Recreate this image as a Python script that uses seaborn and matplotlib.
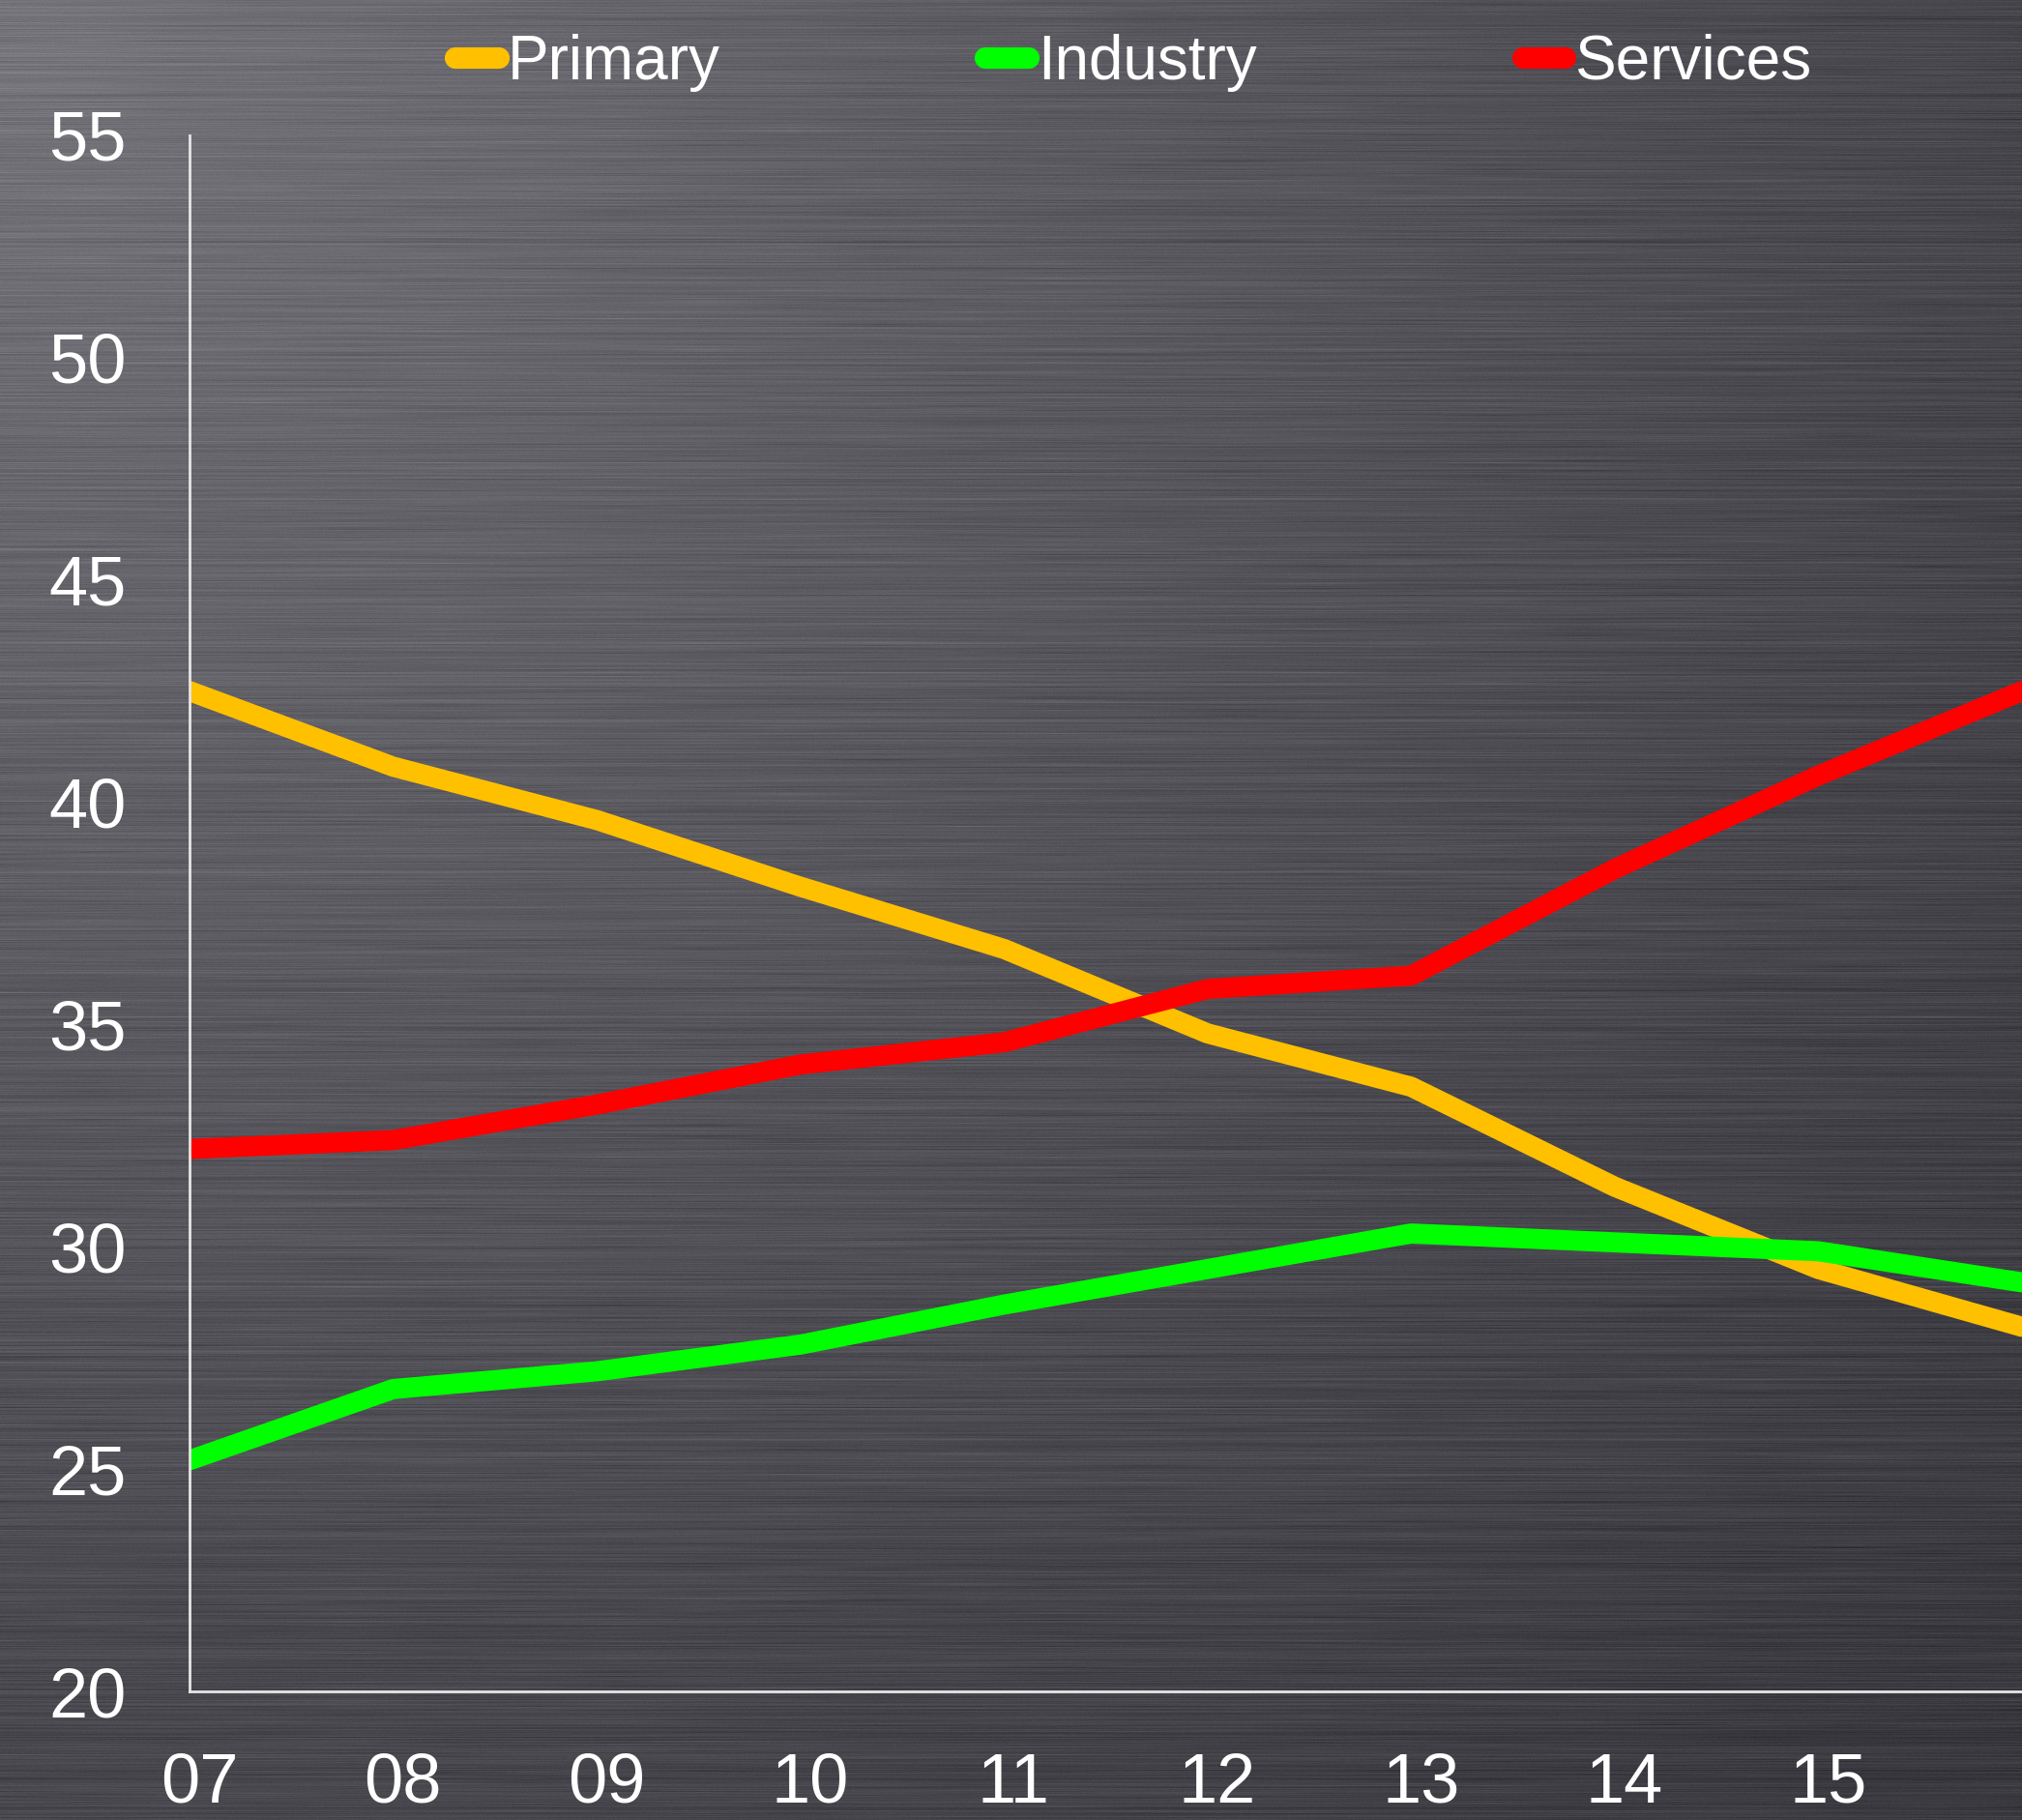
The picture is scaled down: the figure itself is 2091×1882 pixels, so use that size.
import numpy as np
import pandas as pd
import matplotlib
matplotlib.use("Agg")
import matplotlib.pyplot as plt
import matplotlib.transforms as mtransforms
from matplotlib.lines import Line2D
import seaborn as sns

# ---- data -------------------------------------------------------------
years = ["07", "08", "09", "10", "11", "12", "13", "14", "15", "16"]
primary = [42.5, 40.8, 39.6, 38.1, 36.7, 34.8, 33.6, 31.35, 29.5, 28.2]
industry = [25.2, 26.8, 27.2, 27.8, 28.7, 29.5, 30.3, 30.1, 29.9, 29.2]
services = [32.2, 32.4, 33.2, 34.1, 34.6, 35.8, 36.1, 38.5, 40.6, 42.5]
series_names = ["Primary", "Industry", "Services"]
series_colors = ["#FFC000", "#00FF00", "#FF0000"]
y_ticks = [20, 25, 30, 35, 40, 45, 50, 55]
labelled_years = years[:9]

df = pd.DataFrame({
    "pos": list(range(len(years))) * 3,
    "value": primary + industry + services,
    "sector": [n for n in series_names for _ in years],
})

# ---- style ------------------------------------------------------------
sns.set_theme(style="white")
plt.rcParams["font.family"] = ["Liberation Sans", "DejaVu Sans"]

W, H, DPI = 2091, 1882, 100
fig = plt.figure(figsize=(W / DPI, H / DPI), dpi=DPI)

# brushed-metal backdrop: diagonal light falloff plus horizontal streaks
yy, xx = np.mgrid[0:H, 0:W]
d = np.sqrt((xx / W) ** 2 + (yy / H) ** 2) / np.sqrt(2)
base = 58 + 62 * (1 - d) ** 1.2
rng = np.random.default_rng(7)
row_noise = rng.normal(0, 4.0, size=(H, 1))
coarse = rng.normal(0, 4.0, size=(H, 24))
xs = np.linspace(0, 23, W)
streak = np.empty((H, W))
for i in range(H):
    streak[i] = np.interp(xs, np.arange(24), coarse[i])
fine = rng.normal(0, 1.5, size=(H, W))
v = base + row_noise + streak + fine
img = np.stack([v, v - 2, v + 5], axis=-1)
img = np.clip(img, 0, 255).astype(np.uint8)

bg = fig.add_axes([0, 0, 1, 1], zorder=-10)
bg.imshow(img, aspect="auto", interpolation="nearest")
bg.axis("off")

# ---- main axes -------------------------------------------------------
left, bottom_px, top_px = 196, 1749, 140
ax = fig.add_axes([left / W, 1 - bottom_px / H, 1 - left / W, (bottom_px - top_px) / H])
ax.set_facecolor("none")

sns.lineplot(
    data=df, x="pos", y="value", hue="sector",
    hue_order=series_names, palette=series_colors,
    linewidth=15, solid_capstyle="round", solid_joinstyle="round",
    legend=False, ax=ax, sort=False,
)

ax.set_xlim(0, 9.0)
ax.set_ylim(20, 55)
ax.set_xlabel("")
ax.set_ylabel("")

axis_color = "#e6e6e6"
for side in ["top", "right"]:
    ax.spines[side].set_visible(False)
for side in ["left", "bottom"]:
    ax.spines[side].set_visible(True)
    ax.spines[side].set_color(axis_color)
    ax.spines[side].set_linewidth(2.0)

ax.set_yticks(y_ticks)
ax.set_yticklabels([str(t) for t in y_ticks])
ax.set_xticks(range(len(labelled_years)))
ax.set_xticklabels(labelled_years)

ax.tick_params(axis="y", direction="in", length=16, width=2.0, color=axis_color,
               labelsize=52, labelcolor="white", pad=47)
ax.tick_params(axis="x", length=0, labelsize=52, labelcolor="white", pad=45)

shift = mtransforms.ScaledTranslation(0.10, 0, fig.dpi_scale_trans)
for lbl in ax.get_xticklabels():
    lbl.set_transform(lbl.get_transform() + shift)

# ---- legend ----------------------------------------------------------
handles = [Line2D([0], [0], color=c, linewidth=16, solid_capstyle="round")
           for c in series_colors]
fig.legend(
    handles, series_names, loc="center left",
    bbox_to_anchor=(471 / W, 1 - 65 / H), ncol=3, frameon=False,
    fontsize=46, labelcolor="white", handlelength=0.70,
    handletextpad=0.14, columnspacing=4.3, borderpad=0, borderaxespad=0,
)

fig.savefig("out.png", dpi=DPI)
